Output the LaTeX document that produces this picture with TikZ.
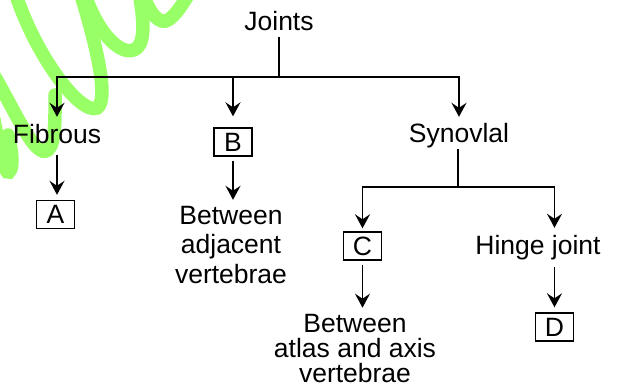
\documentclass[tikz,border=0pt]{standalone}
\usepackage{fontspec}
\setmainfont{Liberation Sans}
\usetikzlibrary{arrows.meta}
\definecolor{wmgreen}{RGB}{153,255,102}
\begin{document}
\begin{tikzpicture}[x=1pt,y=-1pt,
  lbl/.style={inner sep=0pt, font=\fontsize{26.5}{29.5}\selectfont},
  one/.style={lbl, text height=19pt, text depth=5.5pt, anchor=base},
  box/.style={draw, line width=1.4pt, minimum width=38pt, minimum height=28pt, inner sep=0pt, font=\fontsize{26.5}{29.5}\selectfont},
  arr/.style={line width=1.8pt, -{Stealth[length=14pt,width=15pt,inset=5pt]}},
  ln/.style={line width=1.8pt},
  wm/.style={line width=13.5pt, wmgreen, line cap=round}]
\useasboundingbox (0,0) rectangle (619,387);
\begin{scope}
\clip (0,0) rectangle (619,387);
\draw[wm] (15,-8) .. controls (35,55) and (80,115) .. (97,108) .. controls (110,100) and (95,40) .. (80,-8);
\draw[wm] (84,-8) .. controls (100,40) and (125,58) .. (137,48) .. controls (146,40) and (143,15) .. (139,-8);
\draw[wm] (142,-8) .. controls (150,15) and (160,25) .. (168,20) .. controls (176,15) and (182,5) .. (190,-8);
\draw[wm] (-8,72) .. controls (15,110) and (35,160) .. (48,150) .. controls (56,143) and (55,115) .. (55,95);
\draw[wm] (-8,110) .. controls (0,150) and (4,175) .. (9,172) .. controls (14,168) and (12,150) .. (8,135);
\end{scope}
\node[one] (joints) at (279,31) {Joints};
\node[one] (fib) at (57,144) {Fibrous};
\node[box] (B) at (233,142) {B};
\node[one] (syn) at (459,143) {Synovlal};
\node[box] (A) at (55.5,214.5) {A};
\node[lbl, align=center, anchor=north] (adj) at (231,205.8) {Between\\adjacent\\vertebrae};
\node[box] (C) at (362.5,246) {C};
\node[one] (hinge) at (538,255) {Hinge joint};
\node[lbl, align=center, anchor=north, font=\fontsize{26.5}{25}\selectfont] (atl) at (355,313.7) {Between\\atlas and axis\\vertebrae};
\node[box] (D) at (554.5,327) {D};
\coordinate (jb) at (279,77);
\draw[ln] (joints.south) -- (jb);
\draw[arr, shorten >=8pt] (jb) -| (fib.north);
\draw[arr, shorten >=11pt] (jb) -| (B.north);
\draw[arr, shorten >=7pt] (jb) -| (syn.north);
\draw[arr, shorten <=5.5pt, shorten >=5pt] (fib.south) -- (fib.south |- A.north);
\draw[arr, shorten <=4pt, shorten >=6pt] (B.south) -- (B.south |- adj.north);
\coordinate (sb) at (458,187);
\draw[ln] (syn.south -| sb) -- (sb);
\draw[arr, shorten >=3pt] (sb) -| (C.north);
\draw[arr, shorten >=8pt] (sb) -| (D.north |- hinge.north);
\draw[arr, shorten <=6.5pt, shorten >=5pt] (D.north |- hinge.south) -- (D.north);
\draw[arr, shorten <=4pt, shorten >=6pt] (C.south) -- (C.south |- atl.north);
\end{tikzpicture}
\end{document}
